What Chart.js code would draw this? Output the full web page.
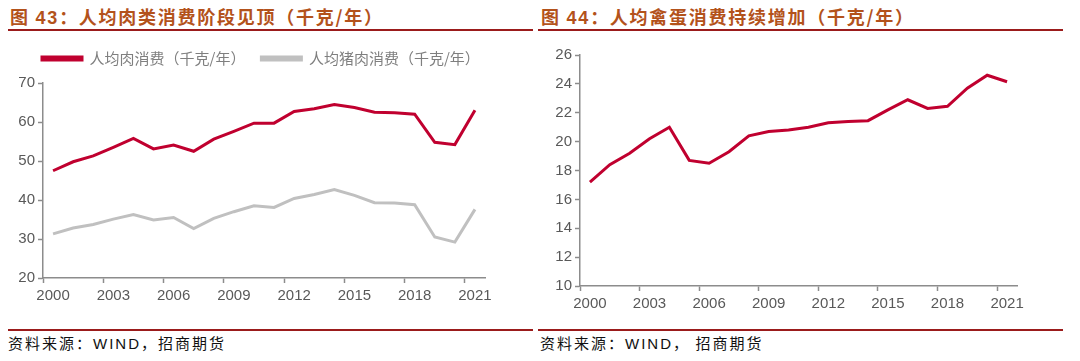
<!DOCTYPE html>
<html>
<head>
<meta charset="utf-8">
<script src="https://cdn.jsdelivr.net/npm/chart.js@4"></script>
<style>
  body { margin: 0; width: 1080px; height: 361px; background: #fff; position: relative; overflow: hidden; }
  .title { position: absolute; top: 4px; font-family: "Noto Sans CJK SC", sans-serif; font-weight: 700;
           font-size: 18px; letter-spacing: 1.75px; color: #b3521b; line-height: 24px; white-space: nowrap; }
  .title b { font-family: "Liberation Sans", Arial, sans-serif; font-weight: 700; }
  .rule { position: absolute; height: 2px; background: #9b1b1b; }
  .src { position: absolute; top: 333px; font-family: "Noto Sans CJK SC", sans-serif; font-size: 15px;
         letter-spacing: 2px; color: #111; line-height: 20px; white-space: nowrap; }
  .src span { font-family: "Liberation Sans", Arial, sans-serif; }
  .box { position: absolute; top: 36px; width: 540px; height: 292px; }
</style>
</head>
<body>
<div class="title" style="left:10px">图 <b>43</b>：人均肉类消费阶段见顶（千克/年）</div>
<div class="title" style="left:541px">图 <b>44</b>：人均禽蛋消费持续增加（千克/年）</div>
<div class="rule" style="left:8px; width:525px; top:29px"></div>
<div class="rule" style="left:538px; width:525px; top:29px"></div>

<div class="box" style="left:0"><canvas id="meat" width="540" height="292"></canvas></div>
<div class="box" style="left:540px"><canvas id="egg" width="540" height="292"></canvas></div>

<div class="rule" style="left:8px; width:525px; top:329px"></div>
<div class="rule" style="left:538px; width:525px; top:329px"></div>
<div class="src" style="left:8px">资料来源：<span>WIND</span>，招商期货</div>
<div class="src" style="left:540px">资料来源：<span>WIND</span>， 招商期货</div>

<script>
// years 2000-2021
const years = [];
for (let y = 2000; y <= 2021; y++) years.push(String(y));

// 人均肉消费 (kg/yr)
const meatValues = [47.5, 49.8, 51.3, 53.5, 55.8, 53.1, 54.1, 52.5, 55.6, 57.6, 59.7,
                    59.7, 62.7, 63.4, 64.5, 63.7, 62.5, 62.4, 62.0, 54.8, 54.2, 63.0];
// 人均猪肉消费 (kg/yr)
const porkValues = [31.3, 32.8, 33.7, 35.1, 36.3, 34.9, 35.5, 32.7, 35.3, 37.0, 38.5,
                    38.1, 40.4, 41.4, 42.7, 41.2, 39.3, 39.2, 38.8, 30.5, 29.2, 37.6];
// 人均禽蛋消费 (kg/yr)
const eggValues = [17.2, 18.4, 19.2, 20.2, 21.0, 18.7, 18.5, 19.3, 20.4, 20.7, 20.8,
                   21.0, 21.3, 21.4, 21.45, 22.2, 22.9, 22.3, 22.45, 23.7, 24.6, 24.15];

const RED = '#c0002f';
const GREY = '#c0c0c0';
const AXIS = '#8c8c8c';
const TEXT = '#595959';

// nudge the legend (it sits indented from the canvas edge in the original)
const moveLegend = {
  id: 'moveLegend',
  afterLayout(chart, args, opts) {
    const l = chart.legend;
    if (!l) return;
    l.left += opts.dx; l.right += opts.dx;
    l.top += opts.dy; l.bottom += opts.dy;
  }
};

function xAxis(h) {
  return {
    type: 'category',
    offset: true,
    border: { color: AXIS, width: 1.5 },
    grid: {
      offset: true,
      drawOnChartArea: false,
      tickLength: 5,
      tickWidth: 1.5,
      tickColor: c => (c.index % 3 === 0 ? AXIS : 'rgba(0,0,0,0)')
    },
    ticks: {
      autoSkip: false,
      maxRotation: 0,
      padding: 4,
      color: TEXT,
      font: { family: 'Liberation Sans', size: 15 },
      callback: function (v, i) { return i % 3 === 0 ? this.getLabelForValue(v) : ''; }
    },
    afterFit: s => { s.height = h; }
  };
}

function yAxis(min, max, step, w) {
  return {
    min: min, max: max,
    border: { color: AXIS, width: 1.5 },
    grid: { drawOnChartArea: false, tickLength: 5, tickWidth: 1.5, tickColor: AXIS },
    ticks: { stepSize: step, padding: 3, color: TEXT, font: { family: 'Liberation Sans', size: 15 } },
    afterFit: s => { s.width = w; }
  };
}

// 图43
new Chart('meat', {
  type: 'line',
  data: {
    labels: years,
    datasets: [
      { label: '人均肉消费（千克/年）', data: meatValues, borderColor: RED, backgroundColor: RED,
        borderWidth: 3, pointRadius: 0, tension: 0 },
      { label: '人均猪肉消费（千克/年）', data: porkValues, borderColor: GREY, backgroundColor: GREY,
        borderWidth: 3, pointRadius: 0, tension: 0 }
    ]
  },
  plugins: [moveLegend],
  options: {
    responsive: false,
    animation: false,
    layout: { padding: { left: 0, right: 55, top: 6, bottom: 0 } },
    plugins: {
      tooltip: { enabled: false },
      moveLegend: { dx: 26, dy: -7 },
      legend: {
        align: 'start',
        labels: {
          boxWidth: 40, boxHeight: 3, padding: 16,
          color: '#7f7f7f',
          font: { family: 'Noto Sans CJK SC', size: 15 }
        }
      }
    },
    scales: { x: xAxis(50), y: yAxis(20, 70, 10, 43) }
  }
});

// 图44
new Chart('egg', {
  type: 'line',
  data: {
    labels: years,
    datasets: [
      { label: '人均禽蛋消费', data: eggValues, borderColor: RED, backgroundColor: RED,
        borderWidth: 3, pointRadius: 0, tension: 0 }
    ]
  },
  options: {
    responsive: false,
    animation: false,
    layout: { padding: { left: 0, right: 63, top: 19, bottom: 0 } },
    plugins: { tooltip: { enabled: false }, legend: { display: false } },
    scales: { x: xAxis(42), y: yAxis(10, 26, 2, 40) }
  }
});
</script>
</body>
</html>
